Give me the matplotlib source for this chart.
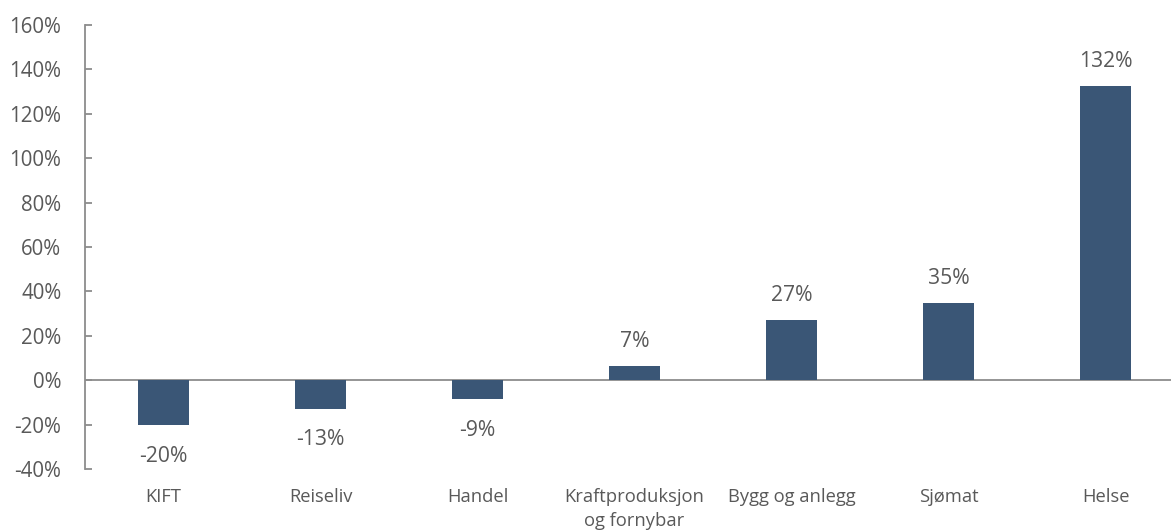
import matplotlib
matplotlib.use("Agg")
import matplotlib.pyplot as plt
from matplotlib.ticker import FuncFormatter

categories = ["KIFT", "Reiseliv", "Handel", "Kraftproduksjon\nog fornybar", "Bygg og anlegg", "Sjømat", "Helse"]
values = [-20.3, -12.8, -8.6, 6.6, 27.2, 35.0, 132.4]
labels = ["-20%", "-13%", "-9%", "7%", "27%", "35%", "132%"]

plt.rcParams['font.family'] = ['Open Sans', 'DejaVu Sans']
text_color = "#595959"
axis_color = "#8c8c8c"
bar_color = "#3a5676"

fig = plt.figure(figsize=(11.71, 5.31), dpi=100)
ax = fig.add_axes([85/1171, 1-469/531, (1184-85)/1171, (469-25)/531])

x = list(range(len(categories)))
ax.bar(x, values, width=0.32, color=bar_color, zorder=2)
ax.set_xlim(-0.5, len(categories)-0.5)
ax.set_ylim(-40, 160)
ax.set_yticks(range(-40, 161, 20))
ax.yaxis.set_major_formatter(FuncFormatter(lambda v, p: f"{int(v)}%"))
ax.axhline(0, color=axis_color, lw=1.3, zorder=1)

for s in ["top", "right", "bottom"]:
    ax.spines[s].set_visible(False)
ax.spines["left"].set_color(axis_color)
ax.spines["left"].set_linewidth(1.3)

ax.tick_params(axis='y', direction='in', length=5, width=1.3, color=axis_color,
               labelsize=14.8, labelcolor=text_color, pad=17)
ax.set_xticks(x)
ax.set_xticklabels(categories, fontsize=13.2, color=text_color, linespacing=1.4, va='top')
ax.tick_params(axis='x', length=0, pad=14)

for xi, v, lab in zip(x, values, labels):
    if v >= 0:
        ax.annotate(lab, (xi, v), xytext=(0, 10), textcoords='offset points',
                    ha='center', va='bottom', fontsize=15.2, color=text_color)
    else:
        ax.annotate(lab, (xi, v), xytext=(0, -15), textcoords='offset points',
                    ha='center', va='top', fontsize=15.2, color=text_color)

fig.savefig("out.png", dpi=100)
